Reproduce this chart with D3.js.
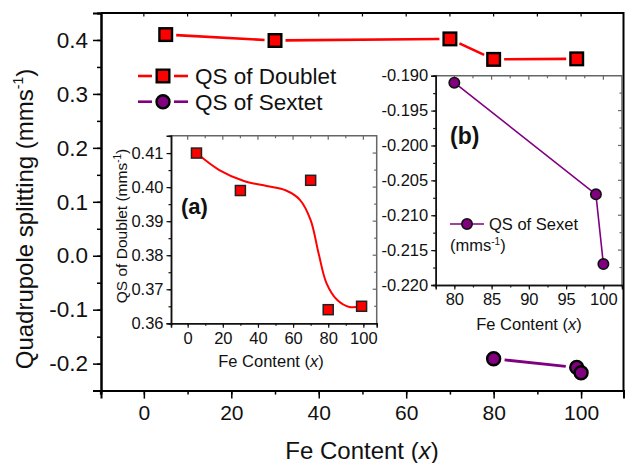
<!DOCTYPE html>
<html>
<head>
<meta charset="utf-8">
<script src="https://cdn.jsdelivr.net/npm/d3@7"></script>
<style>
  html, body { margin: 0; padding: 0; background: #fff; }
  svg { display: block; font-family: "Liberation Sans", Arial, sans-serif; }
</style>
</head>
<body>
<svg id="chart" width="626" height="463"></svg>
<script>
// Quadrupole splitting of the doublet and sextet components vs Fe content
const feDoublet = [5, 30, 70, 80, 99];
const qsDoublet = [0.410, 0.399, 0.402, 0.364, 0.365];
const feSextet = [80, 99, 100];
const qsSextet = [-0.191, -0.207, -0.217];

// smooth guide curve through the doublet values (inset a)
const fitX = [5, 18, 32, 45, 56, 64, 70, 74.5, 79, 85, 92, 99];
const fitY = [0.410, 0.405, 0.4018, 0.4003, 0.399, 0.3962, 0.3903, 0.3806, 0.3718, 0.3669, 0.3648, 0.365];

// tick values
const mainXTicks = [0, 20, 40, 60, 80, 100];
const mainYTicks = [-0.2, -0.1, 0.0, 0.1, 0.2, 0.3, 0.4];
const insetAXTicks = [0, 20, 40, 60, 80, 100];
const insetAYTicks = [0.36, 0.37, 0.38, 0.39, 0.40, 0.41];
const insetBXTicks = [80, 85, 90, 95, 100];
const insetBYTicks = [-0.220, -0.215, -0.210, -0.205, -0.200, -0.195, -0.190];

const RED = "#ff0000", PURPLE = "#800080";
const svg = d3.select("#chart");
const hy = f => v => f(v).replace("\u2212", "-");

function range(a, b, step) {
  const out = [];
  for (let v = a; v <= b + step * 1e-6; v += step) out.push(+v.toFixed(6));
  return out;
}
const near = (arr, v) => arr.some(m => Math.abs(m - v) < 1e-9);

// ---------- main panel ----------
const x = d3.scaleLinear([-9.8, 109.7], [101, 623.5]);
const y = d3.scaleLinear([-0.25, 0.45], [390.6, 13]);

const main = svg.append("g");

// top and right frame, top carries short inward ticks
main.append("path").attr("d", `M${x.range()[0]},${y.range()[1]}H${x.range()[1]}V${y.range()[0]}`)
  .attr("fill", "none").attr("stroke", "#000").attr("stroke-width", 2);
main.append("g").selectAll("line").data(range(-10, 110, 10).filter(v => x(v) > 102 && x(v) < 622)).join("line")
  .attr("x1", d => x(d)).attr("x2", d => x(d))
  .attr("y1", y.range()[1]).attr("y2", y.range()[1] + 3.5)
  .attr("stroke", "#000").attr("stroke-width", 1.2);

// bottom axis
const xMinor = main.append("g").attr("transform", `translate(0,${y.range()[0]})`)
  .call(d3.axisBottom(x).tickValues(range(-10, 110, 10).filter(v => x(v) <= 623.5)).tickSize(4).tickFormat(""));
const xAxis = main.append("g").attr("transform", `translate(0,${y.range()[0]})`)
  .call(d3.axisBottom(x).tickValues(mainXTicks).tickSize(8).tickPadding(6).tickFormat(d3.format("d")));
// left axis
const yMinor = main.append("g").attr("transform", `translate(${x.range()[0]},0)`)
  .call(d3.axisLeft(y).tickValues(range(-0.25, 0.45, 0.05)).tickSize(4).tickFormat(""));
const yAxis = main.append("g").attr("transform", `translate(${x.range()[0]},0)`)
  .call(d3.axisLeft(y).tickValues(mainYTicks).tickSize(8).tickPadding(5).tickFormat(hy(d3.format(".1f"))));

[xMinor, xAxis, yMinor, yAxis].forEach(g => {
  g.select(".domain").attr("stroke", "#000").attr("stroke-width", 2);
  g.selectAll(".tick line").attr("stroke", "#000").attr("stroke-width", 1.5);
  g.selectAll("text").attr("font-size", 21).attr("fill", "#111")
    .attr("font-family", "'Liberation Sans', Arial, sans-serif");
});
yAxis.selectAll("text").attr("font-size", 22.5);

// axis titles
main.append("text").attr("x", 362).attr("y", 459).attr("text-anchor", "middle")
  .attr("font-size", 24).attr("fill", "#111")
  .call(t => {
    t.append("tspan").text("Fe Content (");
    t.append("tspan").attr("font-style", "italic").text("x");
    t.append("tspan").text(")");
  });
main.append("text").attr("transform", "translate(33,219) rotate(-90)").attr("text-anchor", "middle")
  .attr("font-size", 24).attr("fill", "#111")
  .call(t => {
    t.append("tspan").text("Quadrupole splitting (mms");
    t.append("tspan").attr("font-size", 14).attr("dy", -10).text("-1");
    t.append("tspan").attr("dy", 10).text(")");
  });

// connecting segments, broken around the symbols
function gappedSegments(g, xs, ys, sx, sy, color, width, gap) {
  for (let i = 0; i < xs.length - 1; i++) {
    const x1 = sx(xs[i]), y1 = sy(ys[i]), x2 = sx(xs[i + 1]), y2 = sy(ys[i + 1]);
    const len = Math.hypot(x2 - x1, y2 - y1);
    if (len <= 2 * gap) continue;
    const ux = (x2 - x1) / len, uy = (y2 - y1) / len;
    g.append("line")
      .attr("x1", x1 + ux * gap).attr("y1", y1 + uy * gap)
      .attr("x2", x2 - ux * gap).attr("y2", y2 - uy * gap)
      .attr("stroke", color).attr("stroke-width", width);
  }
}
const doubletPts = feDoublet.map((v, i) => [v, qsDoublet[i]]);
const sextetPts = feSextet.map((v, i) => [v, qsSextet[i]]);

gappedSegments(main, feDoublet, qsDoublet, x, y, RED, 2.6, 10.5);
gappedSegments(main, feSextet, qsSextet, x, y, PURPLE, 2.8, 11);

main.append("g").selectAll("rect").data(doubletPts).join("rect")
  .attr("x", d => x(d[0]) - 6.3).attr("y", d => y(d[1]) - 6.3)
  .attr("width", 12.6).attr("height", 12.6)
  .attr("fill", RED).attr("stroke", "#000").attr("stroke-width", 2.4);
main.append("g").selectAll("circle").data(sextetPts).join("circle")
  .attr("cx", d => x(d[0])).attr("cy", d => y(d[1])).attr("r", 6.5)
  .attr("fill", PURPLE).attr("stroke", "#000").attr("stroke-width", 2.4);

// legend
const leg = main.append("g");
[[76, "QS of Doublet", "square", RED], [101.7, "QS of Sextet", "circle", PURPLE]].forEach(([ly, label, shape, color]) => {
  leg.append("line").attr("x1", 138).attr("x2", 152).attr("y1", ly).attr("y2", ly).attr("stroke", color).attr("stroke-width", 2.6);
  leg.append("line").attr("x1", 174).attr("x2", 188).attr("y1", ly).attr("y2", ly).attr("stroke", color).attr("stroke-width", 2.6);
  if (shape === "square") {
    leg.append("rect").attr("x", 156.7).attr("y", ly - 6.3).attr("width", 12.6).attr("height", 12.6)
      .attr("fill", color).attr("stroke", "#000").attr("stroke-width", 2.4);
  } else {
    leg.append("circle").attr("cx", 163).attr("cy", ly).attr("r", 6.5)
      .attr("fill", color).attr("stroke", "#000").attr("stroke-width", 2.4);
  }
  leg.append("text").attr("x", 195).attr("y", ly + 8).attr("font-size", 22.5).attr("fill", "#111").text(label);
});

// ---------- inset helper ----------
function insetFrame(g, sx, sy, xMajor, xMinorVals, yMajor, yMinorVals, xFmt, yFmt) {
  const [x0, x1] = sx.range(), [y0, y1] = sy.range();
  g.append("rect").attr("x", x0).attr("y", y1).attr("width", x1 - x0).attr("height", y0 - y1)
    .attr("fill", "#fff");
  // top and right frame (gray) with inward ticks
  g.append("path").attr("d", `M${x0},${y1}H${x1}V${y0}`).attr("fill", "none")
    .attr("stroke", "#666").attr("stroke-width", 1.5);
  g.append("g").selectAll("line").data(xMinorVals.filter(v => sx(v) > x0 + 1 && sx(v) < x1 - 1)).join("line")
    .attr("x1", d => sx(d)).attr("x2", d => sx(d))
    .attr("y1", y1).attr("y2", d => y1 + (near(xMajor, d) ? 4 : 2.5))
    .attr("stroke", "#666").attr("stroke-width", 1.2);
  g.append("g").selectAll("line").data(yMinorVals.filter(v => sy(v) > y1 + 1 && sy(v) < y0 - 1)).join("line")
    .attr("y1", d => sy(d)).attr("y2", d => sy(d))
    .attr("x1", x1).attr("x2", d => x1 - (near(yMajor, d) ? 4 : 2.5))
    .attr("stroke", "#666").attr("stroke-width", 1.2);
  const parts = [
    g.append("g").attr("transform", `translate(0,${y0})`)
      .call(d3.axisBottom(sx).tickValues(xMinorVals).tickSize(2.5).tickFormat("")),
    g.append("g").attr("transform", `translate(0,${y0})`)
      .call(d3.axisBottom(sx).tickValues(xMajor).tickSize(4.5).tickPadding(4).tickFormat(xFmt)),
    g.append("g").attr("transform", `translate(${x0},0)`)
      .call(d3.axisLeft(sy).tickValues(yMinorVals).tickSize(2.5).tickFormat("")),
    g.append("g").attr("transform", `translate(${x0},0)`)
      .call(d3.axisLeft(sy).tickValues(yMajor).tickSize(4.5).tickPadding(3).tickFormat(yFmt))
  ];
  parts.forEach(p => {
    p.select(".domain").attr("stroke", "#111").attr("stroke-width", 1.5);
    p.selectAll(".tick line").attr("stroke", "#111").attr("stroke-width", 1.2);
    p.selectAll("text").attr("font-size", 16.5).attr("fill", "#111")
      .attr("font-family", "'Liberation Sans', Arial, sans-serif");
  });
}

// ---------- inset (a): doublet ----------
const ax = d3.scaleLinear([-9.5, 107.6], [171, 376.7]);
const ay = d3.scaleLinear([0.36, 0.4151], [323.3, 135.7]);
const ga = svg.append("g");
insetFrame(ga, ax, ay, insetAXTicks, range(-10, 100, 10).filter(v => v >= -9.5),
  insetAYTicks, range(0.36, 0.415, 0.005), d3.format("d"), d3.format(".2f"));

const fitPts = fitX.map((v, i) => [v, fitY[i]]);
ga.append("path").datum(fitPts)
  .attr("d", d3.line().x(d => ax(d[0])).y(d => ay(d[1])).curve(d3.curveCatmullRom.alpha(0.5)))
  .attr("fill", "none").attr("stroke", RED).attr("stroke-width", 2);
ga.append("g").selectAll("rect").data(doubletPts).join("rect")
  .attr("x", d => ax(d[0]) - 5).attr("y", d => ay(d[1]) - 5).attr("width", 10).attr("height", 10)
  .attr("fill", RED).attr("stroke", "#222").attr("stroke-width", 1.5);

ga.append("text").attr("x", 181).attr("y", 214).attr("font-size", 22).attr("font-weight", "bold")
  .attr("fill", "#111").text("(a)");
ga.append("text").attr("x", 271).attr("y", 367).attr("text-anchor", "middle").attr("font-size", 16.5).attr("fill", "#111")
  .call(t => {
    t.append("tspan").text("Fe Content (");
    t.append("tspan").attr("font-style", "italic").text("x");
    t.append("tspan").text(")");
  });
ga.append("text").attr("transform", "translate(127,226) rotate(-90)").attr("text-anchor", "middle")
  .attr("font-size", 15.5).attr("fill", "#111")
  .call(t => {
    t.append("tspan").text("QS of Doublet (mms");
    t.append("tspan").attr("font-size", 10).attr("dy", -6).text("-1");
    t.append("tspan").attr("dy", 6).text(")");
  });

// ---------- inset (b): sextet ----------
const bx = d3.scaleLinear([77.5, 102.5], [435.7, 622]);
const by = d3.scaleLinear([-0.22, -0.19], [285, 75.7]);
const gb = svg.append("g");
insetFrame(gb, bx, by, insetBXTicks, range(77.5, 102.5, 2.5),
  insetBYTicks, range(-0.22, -0.19, 0.0025), d3.format("d"), hy(d3.format(".3f")));

gb.append("path").datum(sextetPts)
  .attr("d", d3.line().x(d => bx(d[0])).y(d => by(d[1])))
  .attr("fill", "none").attr("stroke", PURPLE).attr("stroke-width", 1.6);
gb.append("g").selectAll("circle").data(sextetPts).join("circle")
  .attr("cx", d => bx(d[0])).attr("cy", d => by(d[1])).attr("r", 5.2)
  .attr("fill", PURPLE).attr("stroke", "#111").attr("stroke-width", 1.6);

gb.append("text").attr("x", 450).attr("y", 144).attr("font-size", 23).attr("font-weight", "bold")
  .attr("fill", "#111").text("(b)");
gb.append("line").attr("x1", 450).attr("x2", 484).attr("y1", 224).attr("y2", 224)
  .attr("stroke", PURPLE).attr("stroke-width", 1.6);
gb.append("circle").attr("cx", 467).attr("cy", 224).attr("r", 5.2)
  .attr("fill", PURPLE).attr("stroke", "#111").attr("stroke-width", 1.6);
gb.append("text").attr("x", 489).attr("y", 229.5).attr("font-size", 16.5).attr("fill", "#111").text("QS of Sexet");
gb.append("text").attr("x", 450).attr("y", 251).attr("font-size", 16.5).attr("fill", "#111")
  .call(t => {
    t.append("tspan").text("(mms");
    t.append("tspan").attr("font-size", 10).attr("dy", -6).text("-1");
    t.append("tspan").attr("dy", 6).text(")");
  });
gb.append("text").attr("x", 529).attr("y", 330).attr("text-anchor", "middle").attr("font-size", 16.5).attr("fill", "#111")
  .call(t => {
    t.append("tspan").text("Fe Content (");
    t.append("tspan").attr("font-style", "italic").text("x");
    t.append("tspan").text(")");
  });
</script>
</body>
</html>
